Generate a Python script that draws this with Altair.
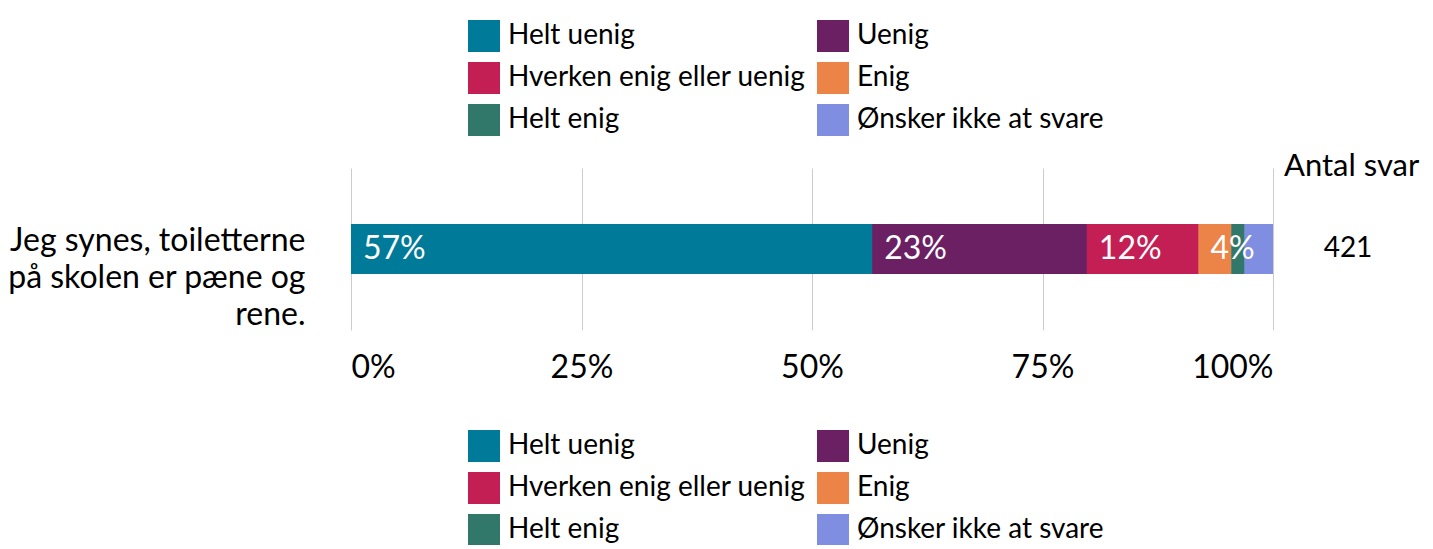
import altair as alt
import pandas as pd

question = "Jeg synes, toiletterne\npå skolen er pæne og\nrene."
categories = ["Helt uenig", "Uenig", "Hverken enig eller uenig", "Enig", "Helt enig", "Ønsker ikke at svare"]
counts = [238, 98, 51, 15, 6, 13]
colors = ["#007A99", "#6A2063", "#C41F55", "#EB8446", "#31786A", "#7F8EE0"]
# legend is filled column by column: left column, then right column
legend_order = ["Helt uenig", "Hverken enig eller uenig", "Helt enig", "Uenig", "Enig", "Ønsker ikke at svare"]
total = 421
tick_values = [0, 25, 50, 75, 100]

pcts = [c / total * 100 for c in counts]
labels = [f"{round(p)}%" if p >= 3.5 else "" for p in pcts]
color_of = dict(zip(categories, colors))
legend_colors = [color_of[c] for c in legend_order]

df = pd.DataFrame({
    "q": [question] * len(categories),
    "svar": categories,
    "svar_b": categories,
    "pct": pcts,
    "lab": labels,
    "ord": list(range(len(categories))),
})
df_n = pd.DataFrame({"q": [question], "n": [str(total)]})

FONT = "Lato"

def legend(y):
    return alt.Legend(
        title=None, orient="none", legendX=117, legendY=y, columns=2,
        symbolType="square", symbolSize=1024, symbolStrokeWidth=0,
        labelFontSize=28, labelFont=FONT, labelColor="#000000", labelLimit=500,
        labelOffset=8, rowPadding=10, columnPadding=11, padding=0,
    )

x_enc = alt.X(
    "pct:Q", stack="zero",
    scale=alt.Scale(domain=[0, 100], nice=False),
    axis=alt.Axis(
        values=tick_values, labelExpr="datum.value + '%'", title=None,
        domain=False, ticks=False, grid=True, gridColor="#CCCCCC", gridWidth=1,
        labelFontSize=32, labelFont=FONT, labelColor="#000000", labelPadding=22,
        labelFlush=True,
    ),
)
y_enc = alt.Y(
    "q:N", title=None,
    axis=alt.Axis(
        domain=False, ticks=False, labelFontSize=32, labelFont=FONT,
        labelColor="#000000", labelLimit=500, labelPadding=46,
        labelExpr="split(datum.label, '\\n')", labelLineHeight=37,
        labelOffset=-8, labelAlign="right", labelBaseline="middle",
    ),
)

base = alt.Chart(df)

bars_b = base.mark_bar(size=50).encode(
    x=x_enc, y=y_enc,
    color=alt.Color("svar_b:N", scale=alt.Scale(domain=legend_order, range=legend_colors), legend=legend(262)),
    order=alt.Order("ord:Q"),
)
bars = base.mark_bar(size=50).encode(
    x=x_enc, y=y_enc,
    color=alt.Color("svar:N", scale=alt.Scale(domain=legend_order, range=legend_colors), legend=legend(-148)),
    order=alt.Order("ord:Q"),
)

text = base.transform_stack(
    stack="pct", as_=["x0", "x1"], groupby=["q"], sort=[alt.SortField("ord", order="ascending")]
).mark_text(align="left", baseline="middle", dx=12, fontSize=32, font=FONT, color="white").encode(
    x=alt.X("x0:Q"), y=alt.Y("q:N"), text="lab:N",
)

n_text = alt.Chart(df_n).mark_text(align="center", baseline="middle", fontSize=28, font=FONT, color="#000000").encode(
    x=alt.value(997), y=alt.Y("q:N"), text="n:N",
)
header = alt.Chart(df_n).mark_text(align="left", baseline="middle", fontSize=31, font=FONT, color="#000000").encode(
    x=alt.value(933), y=alt.value(-1), text=alt.value("Antal svar"),
)

chart = alt.layer(bars_b, bars, text, n_text, header).resolve_scale(color="independent").properties(
    width=922, height=162,
    padding={"left": 343, "top": 160, "right": 152, "bottom": 215},
    autosize=alt.AutoSizeParams(type="none"),
).configure(font=FONT).configure_view(stroke=None)

chart.save("out.html", embed_options={"renderer": "svg", "actions": False})
